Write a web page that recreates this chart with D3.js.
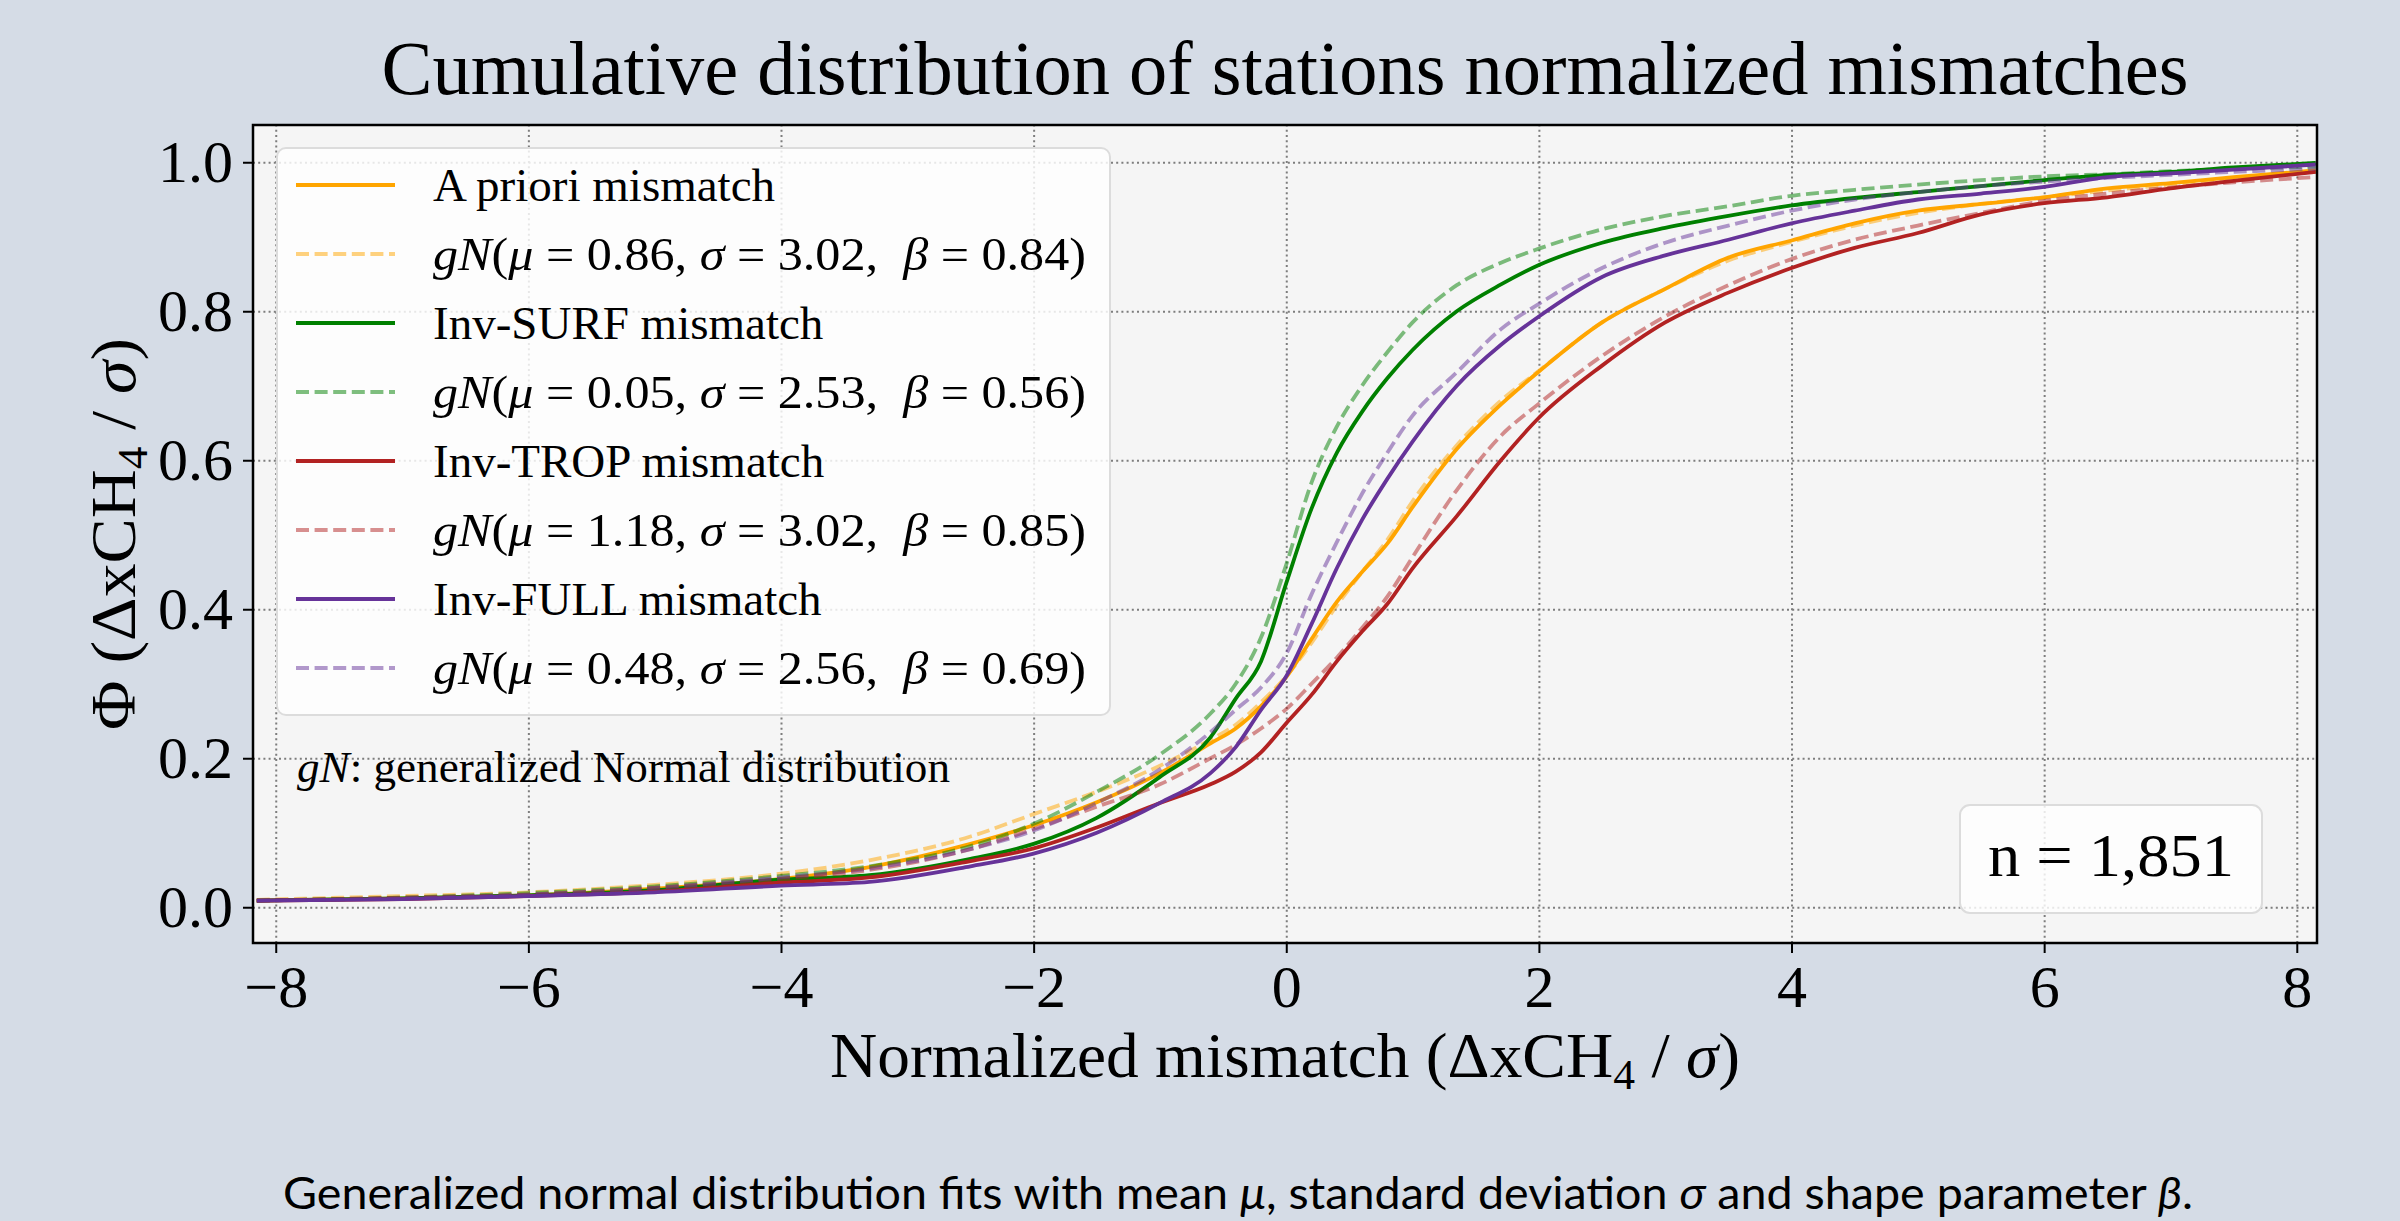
<!DOCTYPE html>
<html>
<head>
<meta charset="utf-8">
<script src="https://cdn.jsdelivr.net/npm/d3@7"></script>
<style>
body { margin: 0; background: #d5dce6; }
svg { display: block; }
text { font-family: "Liberation Serif", serif; fill: #000; white-space: pre; }
</style>
</head>
<body>
<svg id="chart" width="2400" height="1221"></svg>
<script>
const xs = [-8.15, -7, -6, -5, -4, -3.3, -2.5, -2, -1.5, -1,
  -0.6, -0.4, -0.2, 0, 0.2, 0.4, 0.6, 0.8, 1.0, 1.35,
  1.7, 2, 2.5, 3, 3.5, 4, 4.5, 5, 5.5, 6,
  6.5, 7, 7.5, 8.15];

// empirical CDFs
const aprioriObs = [0.009, 0.012, 0.016, 0.025, 0.038, 0.054, 0.085, 0.11, 0.141, 0.18,
  0.22, 0.24, 0.27, 0.309, 0.36, 0.41, 0.45, 0.488, 0.537, 0.615,
  0.675, 0.719, 0.785, 0.83, 0.872, 0.895, 0.918, 0.935, 0.944, 0.953,
  0.965, 0.972, 0.98, 0.989];
const surfObs = [0.009, 0.012, 0.016, 0.023, 0.037, 0.043, 0.065, 0.085, 0.12, 0.175,
  0.228, 0.28, 0.33, 0.435, 0.535, 0.61, 0.665, 0.71, 0.748, 0.8,
  0.836, 0.862, 0.892, 0.912, 0.928, 0.942, 0.952, 0.96, 0.968, 0.976,
  0.983, 0.987, 0.993, 0.999];
const tropObs = [0.009, 0.011, 0.015, 0.021, 0.033, 0.04, 0.062, 0.079, 0.107, 0.14,
  0.165, 0.182, 0.208, 0.247, 0.285, 0.33, 0.37, 0.407, 0.455, 0.525,
  0.6, 0.657, 0.727, 0.785, 0.825, 0.858, 0.885, 0.905, 0.93, 0.945,
  0.953, 0.965, 0.975, 0.987];
const fullObs = [0.009, 0.011, 0.015, 0.02, 0.029, 0.034, 0.055, 0.072, 0.1, 0.14,
  0.18, 0.215, 0.265, 0.31, 0.38, 0.455, 0.52, 0.575, 0.625, 0.7,
  0.755, 0.793, 0.846, 0.875, 0.896, 0.918, 0.935, 0.95, 0.958, 0.967,
  0.98, 0.985, 0.99, 0.997];

// fitted generalized normal CDFs (dashed)
const aprioriFit = [0.01, 0.015, 0.02, 0.03, 0.045, 0.063, 0.095, 0.125, 0.155, 0.19,
  0.225, 0.245, 0.275, 0.31, 0.355, 0.405, 0.45, 0.493, 0.545, 0.62,
  0.68, 0.72, 0.785, 0.83, 0.868, 0.893, 0.915, 0.932, 0.944, 0.953,
  0.962, 0.97, 0.978, 0.987];
const surfFit = [0.009, 0.013, 0.019, 0.028, 0.042, 0.055, 0.082, 0.112, 0.155, 0.205,
  0.26, 0.3, 0.362, 0.46, 0.57, 0.645, 0.7, 0.745, 0.785, 0.835,
  0.865, 0.884, 0.91, 0.928, 0.941, 0.955, 0.963, 0.97, 0.976, 0.981,
  0.984, 0.988, 0.991, 0.994];
const tropFit = [0.009, 0.013, 0.017, 0.026, 0.038, 0.05, 0.078, 0.105, 0.135, 0.165,
  0.2, 0.218, 0.24, 0.266, 0.3, 0.335, 0.375, 0.417, 0.47, 0.56,
  0.633, 0.676, 0.74, 0.793, 0.835, 0.87, 0.896, 0.915, 0.932, 0.948,
  0.958, 0.966, 0.973, 0.98];
const fullFit = [0.009, 0.012, 0.017, 0.026, 0.04, 0.052, 0.078, 0.103, 0.14, 0.185,
  0.235, 0.265, 0.295, 0.34, 0.42, 0.49, 0.555, 0.61, 0.66, 0.718,
  0.776, 0.81, 0.858, 0.892, 0.915, 0.935, 0.95, 0.96, 0.968, 0.974,
  0.979, 0.983, 0.987, 0.991];

const runNames = ["A priori", "Inv-SURF", "Inv-TROP", "Inv-FULL"];
const runColors = ["#ffa500", "#008000", "#b22222", "#663399"];
const fitMu = ["0.86", "0.05", "1.18", "0.48"];
const fitSigma = ["3.02", "2.53", "3.02", "2.56"];
const fitBeta = ["0.84", "0.56", "0.85", "0.69"];
const observed = [aprioriObs, surfObs, tropObs, fullObs];
const fitted = [aprioriFit, surfFit, tropFit, fullFit];

const xTicks = [-8, -6, -4, -2, 0, 2, 4, 6, 8];
const yTicks = [0, 0.2, 0.4, 0.6, 0.8, 1.0];
const nStations = "1,851";

const svg = d3.select("#chart");
const plot = { left: 253, right: 2317, top: 125, bottom: 943 };
const width = plot.right - plot.left, height = plot.bottom - plot.top;

const x = d3.scaleLinear().domain([-8.18, 8.16]).range([plot.left, plot.right]);
const y = d3.scaleLinear().domain([-0.048, 1.05]).range([plot.bottom, plot.top]);

svg.append("rect").attr("width", 2400).attr("height", 1221).attr("fill", "#d5dce6");

// title
svg.append("text")
  .attr("x", (plot.left + plot.right) / 2).attr("y", 94)
  .attr("text-anchor", "middle").attr("font-size", 76)
  .attr("textLength", 1807).attr("lengthAdjust", "spacingAndGlyphs")
  .text("Cumulative distribution of stations normalized mismatches");

svg.append("rect")
  .attr("x", plot.left).attr("y", plot.top)
  .attr("width", width).attr("height", height)
  .attr("fill", "#f5f5f5");

svg.append("clipPath").attr("id", "clip")
  .append("rect").attr("x", plot.left).attr("y", plot.top)
  .attr("width", width).attr("height", height);

/* GRID */
const gridX = svg.append("g")
  .attr("transform", `translate(0,${plot.bottom})`)
  .call(d3.axisBottom(x).tickValues(xTicks).tickSize(-height).tickFormat(""));
const gridY = svg.append("g")
  .attr("transform", `translate(${plot.left},0)`)
  .call(d3.axisLeft(y).tickValues(yTicks).tickSize(-width).tickFormat(""));
[gridX, gridY].forEach(g => {
  g.select(".domain").remove();
  g.selectAll("line")
    .attr("stroke", "#7d7d7d").attr("stroke-width", 2)
    .attr("stroke-dasharray", "2,3.2");
});

/* CURVES */
const line = d3.line()
  .x((d, i) => x(xs[i]))
  .y(d => y(d))
  .curve(d3.curveMonotoneX);

const curves = svg.append("g").attr("clip-path", "url(#clip)");
runNames.forEach((name, k) => {
  curves.append("path")
    .datum(observed[k])
    .attr("d", line)
    .attr("fill", "none")
    .attr("stroke", runColors[k])
    .attr("stroke-width", 3.8);
  curves.append("path")
    .datum(fitted[k])
    .attr("d", line)
    .attr("fill", "none")
    .attr("stroke", runColors[k])
    .attr("stroke-opacity", 0.5)
    .attr("stroke-width", 3.8)
    .attr("stroke-dasharray", "13,5.6");
});

/* SPINES + AXES */
svg.append("rect")
  .attr("x", plot.left).attr("y", plot.top)
  .attr("width", width).attr("height", height)
  .attr("fill", "none").attr("stroke", "#000").attr("stroke-width", 2.5);

const xAxis = svg.append("g")
  .attr("transform", `translate(0,${plot.bottom})`)
  .call(d3.axisBottom(x).tickValues(xTicks).tickSize(10).tickPadding(11)
    .tickFormat(d => d < 0 ? "\u2212" + Math.abs(d) : d));
const yAxis = svg.append("g")
  .attr("transform", `translate(${plot.left},0)`)
  .call(d3.axisLeft(y).tickValues(yTicks).tickSize(10).tickPadding(10)
    .tickFormat(d3.format(".1f")));
[xAxis, yAxis].forEach(g => {
  g.select(".domain").remove();
  g.selectAll("line").attr("stroke", "#000").attr("stroke-width", 2);
  g.selectAll("text").attr("font-size", 60).attr("font-family", "Liberation Serif");
});

/* AXIS LABELS */
const xl = svg.append("text")
  .attr("x", (plot.left + plot.right) / 2).attr("y", 1077)
  .attr("text-anchor", "middle").attr("font-size", 63)
  .attr("textLength", 910).attr("lengthAdjust", "spacingAndGlyphs");
xl.append("tspan").text("Normalized mismatch (\u0394xCH");
xl.append("tspan").attr("font-size", 42).attr("dy", 12).text("4");
xl.append("tspan").attr("dy", -12).text(" / ");
xl.append("tspan").attr("font-style", "italic").text("\u03c3");
xl.append("tspan").text(")");

const yl = svg.append("text")
  .attr("transform", `translate(135,${(plot.top + plot.bottom) / 2}) rotate(-90)`)
  .attr("text-anchor", "middle").attr("font-size", 63)
  .attr("textLength", 392).attr("lengthAdjust", "spacingAndGlyphs");
yl.append("tspan").text("\u03a6 (\u0394xCH");
yl.append("tspan").attr("font-size", 42).attr("dy", 12).text("4");
yl.append("tspan").attr("dy", -12).text(" / ");
yl.append("tspan").attr("font-style", "italic").text("\u03c3");
yl.append("tspan").text(")");

/* LEGEND */
const legend = svg.append("g");
legend.append("rect")
  .attr("x", 277).attr("y", 148).attr("width", 833).attr("height", 567)
  .attr("rx", 9)
  .attr("fill", "#fff").attr("fill-opacity", 0.82)
  .attr("stroke", "#dcdcdc").attr("stroke-width", 2);

function fitLabel(sel, k) {
  sel.append("tspan").attr("font-style", "italic").text("gN");
  sel.append("tspan").text("(");
  sel.append("tspan").attr("font-style", "italic").text("\u03bc");
  sel.append("tspan").text(` = ${fitMu[k]}, `);
  sel.append("tspan").attr("font-style", "italic").text("\u03c3");
  sel.append("tspan").text(` = ${fitSigma[k]},  `);
  sel.append("tspan").attr("font-style", "italic").text("\u03b2");
  sel.append("tspan").text(` = ${fitBeta[k]})`);
}

runNames.forEach((name, k) => {
  const yObs = 185 + 138 * k, yFit = yObs + 69;
  legend.append("line")
    .attr("x1", 296).attr("x2", 395).attr("y1", yObs).attr("y2", yObs)
    .attr("stroke", runColors[k]).attr("stroke-width", 3.8);
  legend.append("text")
    .attr("x", 433).attr("y", yObs + 16).attr("font-size", 47)
    .text(`${name} mismatch`);
  legend.append("line")
    .attr("x1", 296).attr("x2", 395).attr("y1", yFit).attr("y2", yFit)
    .attr("stroke", runColors[k]).attr("stroke-opacity", 0.5)
    .attr("stroke-width", 3.8).attr("stroke-dasharray", "13,5.6");
  legend.append("text")
    .attr("x", 433).attr("y", yFit + 16).attr("font-size", 47)
    .attr("textLength", 653).attr("lengthAdjust", "spacingAndGlyphs")
    .call(fitLabel, k);
});

/* NOTES */
const note = svg.append("text")
  .attr("x", 297).attr("y", 782).attr("font-size", 45)
  .attr("textLength", 653).attr("lengthAdjust", "spacingAndGlyphs");
note.append("tspan").attr("font-style", "italic").text("gN");
note.append("tspan").text(": generalized Normal distribution");

svg.append("rect")
  .attr("x", 1960).attr("y", 805).attr("width", 302).attr("height", 108)
  .attr("rx", 10)
  .attr("fill", "#fff").attr("fill-opacity", 0.82)
  .attr("stroke", "#dcdcdc").attr("stroke-width", 2);
svg.append("text")
  .attr("x", 2111).attr("y", 876).attr("text-anchor", "middle")
  .attr("font-size", 62)
  .attr("textLength", 246).attr("lengthAdjust", "spacingAndGlyphs")
  .text(`n = ${nStations}`);

/* CAPTION */
const cap = svg.append("text")
  .attr("x", 1238).attr("y", 1209).attr("text-anchor", "middle")
  .attr("font-size", 44)
  .style("font-family", "Lato, 'Noto Sans', sans-serif")
  .attr("textLength", 1910).attr("lengthAdjust", "spacingAndGlyphs");
cap.append("tspan").text("Generalized normal distribution fits with mean ");
cap.append("tspan").attr("font-style", "italic").text("\u03bc");
cap.append("tspan").text(", standard deviation ");
cap.append("tspan").attr("font-style", "italic").text("\u03c3");
cap.append("tspan").text(" and shape parameter ");
cap.append("tspan").attr("font-style", "italic").text("\u03b2");
cap.append("tspan").text(".");
</script>
</body>
</html>
